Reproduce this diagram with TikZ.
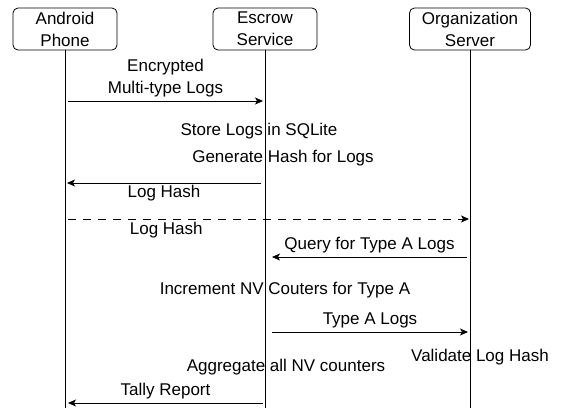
\documentclass[tikz,border=0pt]{standalone}
\usepackage{fontspec}
\setmainfont{Liberation Sans}
\usetikzlibrary{arrows.meta}

\begin{document}
\begin{tikzpicture}[
    x=1pt, y=-1pt,
    actor/.style={rectangle, rounded corners=5pt, draw, line width=0.8pt,
        minimum width=104pt, minimum height=42pt, inner sep=0pt,
        align=center, font=\fontsize{17}{22}\selectfont},
    life/.style={line width=0.8pt},
    msg/.style={-{Stealth[length=8pt, width=7pt, inset=2pt]}, line width=0.8pt},
    dmsg/.style={msg, dash pattern=on 8pt off 7pt},
    lbl/.style={inner sep=0pt, align=center, font=\fontsize{17}{22}\selectfont}
]
\useasboundingbox (0,0) rectangle (561,410);

\node[actor] (phone) at (65,29) {Android\\Phone};
\node[actor] (escrow) at (265,29) {Escrow\\Service};
\node[actor, minimum width=121pt] (org) at (470,29) {Organization\\Server};

\coordinate (bottom) at (0,408);
\draw[life] (phone) -- (phone |- bottom);
\draw[life] (escrow) -- (escrow |- bottom);
\draw[life] (org) -- (org |- bottom);

% message levels
\coordinate (m1) at (0,101);
\coordinate (m2) at (0,183);
\coordinate (m3) at (0,219);
\coordinate (m4) at (0,257);
\coordinate (m5) at (0,332);
\coordinate (m6) at (0,403);

\draw[msg] ([xshift=3pt]phone |- m1) -- node[lbl, above=4pt] {Encrypted\\Multi-type Logs} ([xshift=-2pt]escrow |- m1);
\node[lbl] (store) at (259,131) {Store Logs in SQLite};
\node[lbl] (hash) at (283,158) {Generate Hash for Logs};
\draw[msg] ([xshift=-4pt]escrow |- m2) -- node[lbl, below=2pt] {Log Hash} ([xshift=2pt]phone |- m2);
\draw[dmsg] ([xshift=3pt]phone |- m3) -- node[lbl, below=3pt, pos=0.245] {Log Hash} ([xshift=-1pt]org |- m3);
\draw[msg] ([xshift=-3pt]org |- m4) -- node[lbl, above=4pt] {Query for Type A Logs} ([xshift=7pt]escrow |- m4);
\node[lbl] (incr) at (285,290) {Increment NV Couters for Type A};
\draw[msg] ([xshift=7pt]escrow |- m5) -- node[lbl, above=4pt] {Type A Logs} ([xshift=-2pt]org |- m5);
\node[lbl] (valid) at (480,357) {Validate Log Hash};
\node[lbl] (aggr) at (286,367) {Aggregate all NV counters};
\draw[msg] ([xshift=-2pt]escrow |- m6) -- node[lbl, above=4pt] {Tally Report} ([xshift=3pt]phone |- m6);
\end{tikzpicture}
\end{document}
